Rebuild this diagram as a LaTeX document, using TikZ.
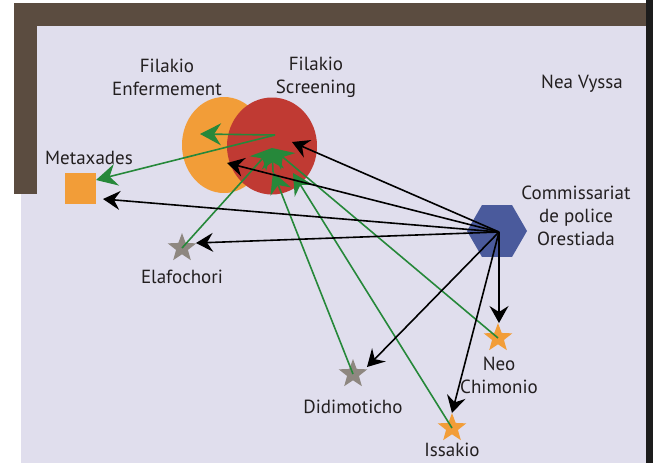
\documentclass[tikz,border=0pt]{standalone}
\usepackage{fontspec}
\setmainfont{PT Sans}
\usetikzlibrary{shapes.geometric,arrows.meta}
\definecolor{lav}{HTML}{E0DEED}
\definecolor{brownbar}{HTML}{5B4C40}
\definecolor{darkbar}{HTML}{1C1C1C}
\definecolor{orangeC}{HTML}{F29D38}
\definecolor{redC}{HTML}{C03A33}
\definecolor{greenC}{HTML}{26883A}
\definecolor{greyC}{HTML}{8E8780}
\definecolor{blueC}{HTML}{4A5A9C}
\definecolor{textC}{HTML}{231F20}
\begin{document}
\begin{tikzpicture}[x=1pt,y=-1pt,
  lbl/.style={text=textC,font=\fontsize{19}{23}\selectfont,align=center,inner sep=0},
  starnode/.style={star,star points=5,star point ratio=2.4,minimum size=30,inner sep=0},
  blk/.style={draw=black,line width=1.6pt,-{Stealth[length=17pt,width=19pt,inset=6pt]}},
  grn/.style={draw=greenC,line width=1.6pt,-{Stealth[length=21pt,width=22pt,inset=7pt]}}]
\useasboundingbox (0,0) rectangle (653,463);
\fill[white] (0,0) rectangle (653,463);
\fill[lav] (21,26) rectangle (646,463);
\fill[brownbar] (14,3) rectangle (646,26);
\fill[brownbar] (14,3) rectangle (37,194);
\fill[darkbar] (646,0) rectangle (653,463);

% shapes
\node[ellipse,fill=orangeC,minimum width=84,minimum height=96,inner sep=0] (enf) at (224,145) {};
\node[ellipse,fill=redC,minimum width=90,minimum height=97,inner sep=0] (scr) at (272,146) {};
\node[fill=orangeC,minimum size=31,inner sep=0] (meta) at (80.5,188) {};
\node[regular polygon,regular polygon sides=6,minimum size=60,inner sep=0,fill=blueC] (comm) at (497,231) {};
\node[starnode,fill=greyC] (ela) at (182,248) {};
\node[starnode,fill=greyC] (didi) at (353,374) {};
\node[starnode,fill=orangeC] (neo) at (498,338) {};
\node[starnode,fill=orangeC] (iss) at (452,428) {};

% labels
\node[lbl] (lenf) at (167,77) {Filakio\\Enfermement};
\node[lbl] (lscr) at (316,77) {Filakio\\Screening};
\node[lbl] (lnea) at (582,84) {Nea Vyssa};
\node[lbl] (lmeta) at (89,158) {Metaxades};
\node[lbl] (lcomm) at (576,216) {Commissariat\\de police\\Orestiada};
\node[lbl] (lela) at (182,277) {Elafochori};
\node[lbl] (lneo) at (499,375) {Neo\\Chimonio};
\node[lbl] (ldidi) at (353,407) {Didimoticho};
\node[lbl] (liss) at (452,450) {Issakio};

% coordinates
\coordinate (hub) at (499,232);
\coordinate (tscr) at (292,142);
\coordinate (tenf) at (227,163);
\coordinate (tmeta) at (103,199);
\coordinate (tela) at (196,243);
\coordinate (tdidi) at (367,367);
\coordinate (tiss) at (452,413);
\coordinate (tneo) at (499,323);
\coordinate (gsrc) at (275,135);
\coordinate (genf) at (200,134);
\coordinate (gmeta) at (96,180);
\coordinate (gtop) at (272,148);
\coordinate (gmidA) at (273,172);
\coordinate (gmidB) at (293,173);

% green arrows
\draw[grn] (gsrc) -- (genf);
\draw[grn] (gsrc) -- (gmeta);
\draw[grn] (ela.center) -- (gtop);
\draw[grn] (neo.center) -- (gtop);
\draw[grn] (didi.center) -- (gmidA);
\draw[grn] (gmidA) -- (gtop);
\draw[grn] (iss.center) -- (gmidB);

% black arrows
\draw[blk] (hub) -- (tscr);
\draw[blk] (hub) -- (tenf);
\draw[blk] (hub) -- (tmeta);
\draw[blk] (hub) -- (tela);
\draw[blk] (hub) -- (tdidi);
\draw[blk] (hub) -- (tiss);
\draw[blk] (hub) -- (tneo);
\end{tikzpicture}
\end{document}
